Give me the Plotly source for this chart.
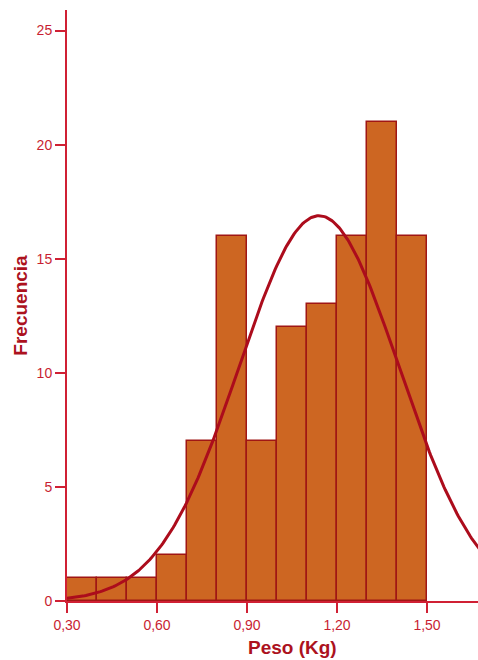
import numpy as np
import plotly.graph_objects as go

# Histogram data (bins of width 0.1 Kg)
bin_starts = [0.3, 0.4, 0.5, 0.6, 0.7, 0.8, 0.9, 1.0, 1.1, 1.2, 1.3, 1.4]
counts = [1, 1, 1, 2, 7, 16, 7, 12, 13, 16, 21, 16]
bin_width = 0.1

# Fitted normal curve parameters
fit_mean = 1.14
fit_sd = 0.267

x_tickvals = [0.3, 0.6, 0.9, 1.2, 1.5]
x_ticktext = ["0,30", "0,60", "0,90", "1,20", "1,50"]
y_tickvals = [0, 5, 10, 15, 20, 25]

mids = [s + bin_width / 2 for s in bin_starts]
n_total = sum(counts)
xs = np.linspace(0.3, 1.75, 300)
ys = n_total * bin_width / (fit_sd * np.sqrt(2 * np.pi)) * np.exp(-(xs - fit_mean) ** 2 / (2 * fit_sd ** 2))

axis_col = "rgb(208,32,52)"
tick_col = "rgb(200,30,50)"
title_col = "rgb(172,18,30)"

fig = go.Figure()
fig.add_trace(go.Bar(
    x=mids, y=counts, width=bin_width,
    marker=dict(color="rgb(205,102,34)", line=dict(color="rgb(160,22,20)", width=1.5)),
    showlegend=False, hoverinfo="x+y",
))
fig.add_trace(go.Scatter(
    x=xs, y=ys, mode="lines",
    line=dict(color="rgb(172,12,28)", width=3),
    showlegend=False,
))

fig.update_layout(
    width=478, height=660,
    margin=dict(l=67, r=0, t=10, b=59),
    paper_bgcolor="white", plot_bgcolor="white",
    font=dict(family="Liberation Sans, Arial, sans-serif", size=14, color=tick_col),
    bargap=0,
    xaxis=dict(
        range=[0.3, 1.67], tickvals=x_tickvals, ticktext=x_ticktext,
        showgrid=False, zeroline=False, showline=True, linecolor=axis_col, linewidth=2,
        ticks="outside", ticklen=10, tickwidth=2, tickcolor=axis_col,
        tickfont=dict(size=14, color=tick_col),
    ),
    yaxis=dict(
        range=[0, 25.9], tickvals=y_tickvals,
        showgrid=False, zeroline=False, showline=True, linecolor=axis_col, linewidth=2,
        ticks="outside", ticklen=10, tickwidth=2, tickcolor=axis_col,
        tickfont=dict(size=14, color=tick_col),
        title=dict(text="<b>Frecuencia</b>", font=dict(size=19, color=title_col), standoff=4),
    ),
    annotations=[dict(
        x=1.05, xref="x", y=0, yref="paper", yanchor="middle", yshift=-46,
        text="<b>Peso (Kg)</b>", showarrow=False,
        font=dict(size=19, color=title_col),
    )],
)

fig.write_html(
    "out.html",
    config={"displayModeBar": False},
    post_script="document.body.style.margin='0';document.body.style.overflow='hidden';",
)
